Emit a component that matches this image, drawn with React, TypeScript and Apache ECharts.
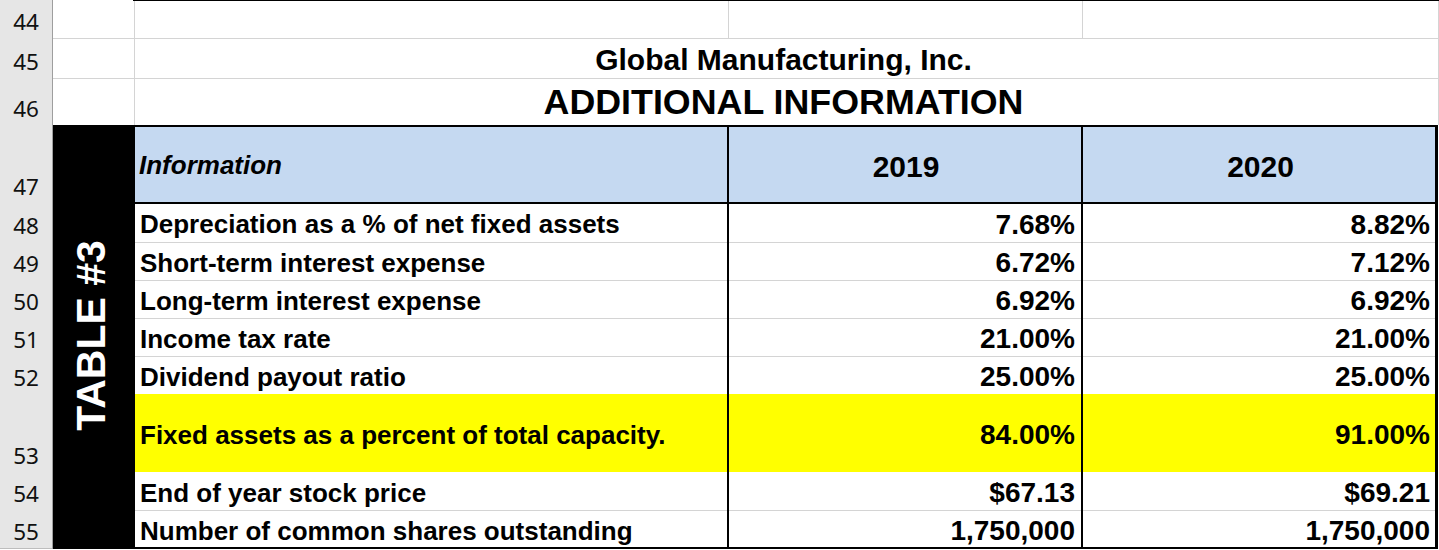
import React, { useEffect, useRef } from 'react';
import * as echarts from 'echarts';

// ---------- data ----------
const rowNumbers = ['44', '45', '46', '47', '48', '49', '50', '51', '52', '53', '54', '55'];
const companyName = 'Global Manufacturing, Inc.';
const tableTitle = 'ADDITIONAL INFORMATION';
const sideLabel = 'TABLE #3';
const headerLabel = 'Information';
const years = ['2019', '2020'];
const items = [
  'Depreciation as a % of net fixed assets',
  'Short-term interest expense',
  'Long-term interest expense',
  'Income tax rate',
  'Dividend payout ratio',
  'Fixed assets as a percent of total capacity.',
  'End of year stock price',
  'Number of common shares outstanding',
];
const values2019 = [7.68, 6.72, 6.92, 21.0, 25.0, 84.0, 67.13, 1750000];
const values2020 = [8.82, 7.12, 6.92, 21.0, 25.0, 91.0, 69.21, 1750000];
const formats = ['pct', 'pct', 'pct', 'pct', 'pct', 'pct', 'usd', 'int'];
const highlighted = [false, false, false, false, false, true, false, false];

// ---------- layout ----------
const W = 1439;
const H = 550;
const rowEdges = [0, 38, 78, 125, 203, 242, 280, 318, 356, 394, 472, 510, 548];
const colEdges = [0, 52, 134, 728, 1082, 1437];
const FONT = '"Liberation Sans", Arial, sans-serif';
const GRID = '#d4d4d4';
const HEADER_FILL = '#c5d9f1';
const YELLOW = '#ffff00';

function fmt(v: number, f: string): string {
  if (f === 'pct') return v.toFixed(2) + '%';
  if (f === 'usd') return '$' + v.toFixed(2);
  return v.toLocaleString('en-US');
}

function box(api: any, x0: number, y0: number, x1: number, y1: number, fill: string) {
  const a = api.coord([x0, y0]);
  const b = api.coord([x1, y1]);
  return {
    type: 'rect',
    shape: { x: a[0], y: a[1], width: b[0] - a[0], height: b[1] - a[1] },
    style: { fill },
  };
}

function txt(
  api: any,
  x: number,
  y: number,
  text: string,
  size: number,
  opts: { align?: string; weight?: string; italic?: boolean; color?: string; family?: string; rotation?: number } = {}
) {
  const p = api.coord([x, y]);
  return {
    type: 'text',
    x: p[0],
    y: p[1],
    rotation: opts.rotation || 0,
    style: {
      text,
      fill: opts.color || '#000',
      fontFamily: opts.family || FONT,
      fontSize: size,
      fontWeight: opts.weight || 'bold',
      fontStyle: opts.italic ? 'italic' : 'normal',
      align: opts.align || 'left',
      verticalAlign: 'middle',
    },
  };
}

export default function App() {
  const ref = useRef<HTMLDivElement>(null);

  useEffect(() => {
    if (!ref.current) return;
    document.body.style.margin = '0';
    const chart = echarts.init(ref.current, null, { renderer: 'svg' });

    const sheetSeries = {
      type: 'custom',
      name: 'sheet',
      z: 1,
      data: rowNumbers.map((_, i) => [i]),
      renderItem: (params: any, api: any) => {
        const i = api.value(0);
        const y0 = rowEdges[i];
        const y1 = rowEdges[i + 1];
        const children: any[] = [
          box(api, 0, y0, colEdges[1], y1, '#e6e6e6'),
          box(api, 0, y1, colEdges[1], y1 + 1, '#bdbdbd'),
          box(api, colEdges[1], y0, colEdges[1] + 1, y1 + 1, '#9e9e9e'),
          txt(api, 26, y1 - 17, rowNumbers[i], 22.5, {
            align: 'center',
            weight: 'normal',
            color: '#111111',
            family: '"Noto Sans", "Open Sans", sans-serif',
          }),
        ];
        if (i < 3) {
          if (i < 2) children.push(box(api, colEdges[1] + 1, y1, W, y1 + 1, GRID));
          children.push(box(api, colEdges[2], y0, colEdges[2] + 1, y1, GRID));
          children.push(box(api, colEdges[5] + 1, y0, colEdges[5] + 2, y1, GRID));
          if (i === 0) {
            children.push(box(api, colEdges[3], y0, colEdges[3] + 1, y1, GRID));
            children.push(box(api, colEdges[4], y0, colEdges[4] + 1, y1, GRID));
            children.push(box(api, colEdges[2] - 1, 0, W, 1, '#000'));
          }
        }
        return { type: 'group', children };
      },
    };

    const titleRows = [1, 2];
    const titleTexts = [companyName, tableTitle];
    const titleSizes = [30, 35.8];
    const titleSeries = {
      type: 'custom',
      name: 'titles',
      z: 2,
      data: titleRows.map((_, k) => [k]),
      renderItem: (params: any, api: any) => {
        const k = api.value(0);
        const r = titleRows[k];
        const yc = (rowEdges[r] + rowEdges[r + 1]) / 2 + (k === 0 ? 1 : 0);
        return txt(api, (colEdges[2] + colEdges[5]) / 2 - 2, yc, titleTexts[k], titleSizes[k], { align: 'center' });
      },
    };

    const headerSeries = {
      type: 'custom',
      name: 'header',
      z: 3,
      data: [[3]],
      renderItem: (params: any, api: any) => {
        const r = api.value(0);
        const y0 = rowEdges[r];
        const y1 = rowEdges[r + 1];
        const yc = (y0 + y1) / 2;
        const children: any[] = [
          box(api, colEdges[2], y0, colEdges[5], y1, HEADER_FILL),
          txt(api, colEdges[2] + 5, yc + 1, headerLabel, 26, { italic: true }),
        ];
        years.forEach((yr, j) => {
          children.push(txt(api, (colEdges[3 + j] + colEdges[4 + j]) / 2 + 1, yc + 2, yr, 30, { align: 'center' }));
        });
        return { type: 'group', children };
      },
    };

    const itemSeries = {
      type: 'custom',
      name: 'items',
      z: 4,
      data: items.map((_, k) => [k]),
      renderItem: (params: any, api: any) => {
        const k = api.value(0);
        const r = 4 + k;
        const y0 = rowEdges[r];
        const y1 = rowEdges[r + 1];
        const yc = (y0 + y1) / 2 + 1.5;
        const children: any[] = [
          box(api, colEdges[2], y0, colEdges[5], y1, highlighted[k] ? YELLOW : '#ffffff'),
        ];
        if (k > 0 && !highlighted[k] && !highlighted[k - 1]) {
          children.push(box(api, colEdges[2], y0, colEdges[5], y0 + 1, GRID));
        }
        children.push(txt(api, colEdges[2] + 6, yc, items[k], 26));
        children.push(txt(api, colEdges[4] - 7, yc, fmt(values2019[k], formats[k]), 28, { align: 'right' }));
        children.push(txt(api, colEdges[5] - 7, yc, fmt(values2020[k], formats[k]), 28, { align: 'right' }));
        return { type: 'group', children };
      },
    };

    const frameSeries = {
      type: 'custom',
      name: 'frame',
      z: 5,
      data: [[0]],
      renderItem: (params: any, api: any) => {
        const top = rowEdges[3];
        const bottom = rowEdges[12];
        const children: any[] = [
          box(api, colEdges[1] + 1, top, colEdges[2] + 1, bottom + 1, '#000'),
          box(api, colEdges[1] + 1, top, colEdges[5] + 1, top + 2, '#000'),
          box(api, colEdges[2], rowEdges[4] - 1, colEdges[5] + 1, rowEdges[4] + 1, '#000'),
          box(api, colEdges[3] - 1, top, colEdges[3] + 1, bottom + 1, '#000'),
          box(api, colEdges[4] - 1, top, colEdges[4] + 1, bottom + 1, '#000'),
          box(api, colEdges[5] - 2, top, colEdges[5] + 1, bottom + 1, '#000'),
          box(api, colEdges[1] + 1, bottom - 1, colEdges[5] + 1, bottom + 1, '#000'),
          txt(api, 91, (top + bottom) / 2 - 1, sideLabel, 41, {
            align: 'center',
            color: '#ffffff',
            rotation: Math.PI / 2,
          }),
        ];
        return { type: 'group', children };
      },
    };

    chart.setOption({
      animation: false,
      backgroundColor: '#ffffff',
      grid: { left: 0, right: 0, top: 0, bottom: 0 },
      xAxis: { type: 'value', min: 0, max: W, show: false },
      yAxis: { type: 'value', min: 0, max: H, inverse: true, show: false },
      tooltip: { show: false },
      series: [sheetSeries, titleSeries, headerSeries, itemSeries, frameSeries],
    });

    return () => chart.dispose();
  }, []);

  return (
    <div style={{ position: 'fixed', left: 0, top: 0, width: W, height: H, overflow: 'hidden' }}>
      <div ref={ref} style={{ width: W, height: H, background: '#fff' }} />
    </div>
  );
}
